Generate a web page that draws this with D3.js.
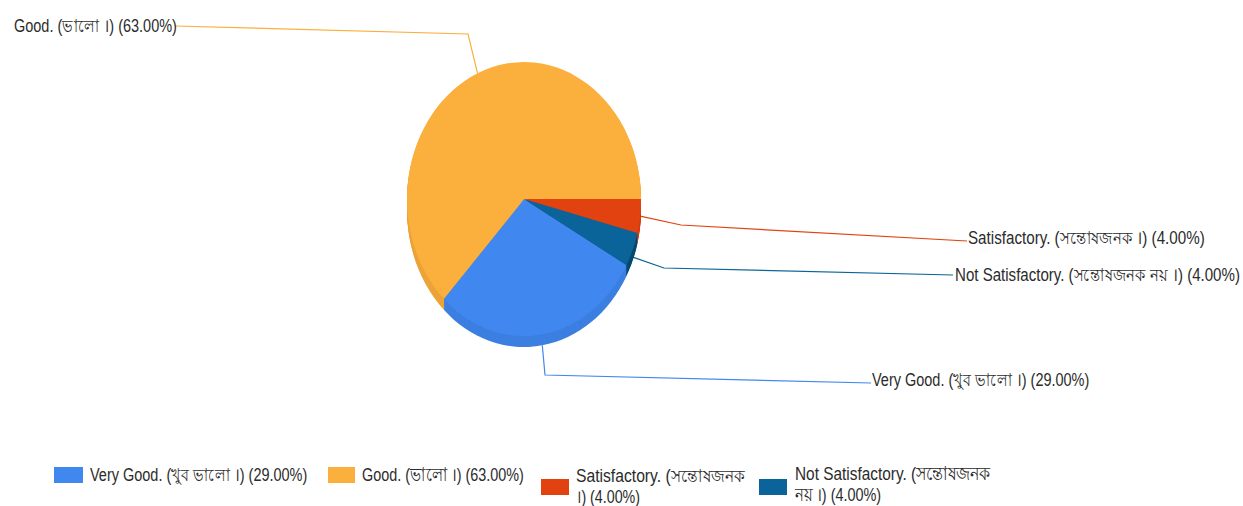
<!DOCTYPE html>
<html>
<head>
<meta charset="utf-8">
<script src="https://cdn.jsdelivr.net/npm/d3@7"></script>
<style>
	html, body { margin: 0; padding: 0; background: #fff; }
	svg { display: block; }
	text { font-family: "Liberation Sans", Arial, "Noto Sans", sans-serif; font-size: 18.5px; fill: #2b2b2b; }
</style>
</head>
<body>
<svg id="chart" width="1243" height="506"></svg>
<script>
'use strict';

const categories = ['Very Good. (খুব ভালো ।)', 'Good. (ভালো ।)', 'Satisfactory. (সন্তোষজনক ।)', 'Not Satisfactory. (সন্তোষজনক নয় ।)'];
const values = [29, 63, 4, 4];
const colors = ['#4087f0', '#fbaf3c', '#e2420f', '#0a6499'];
const legendLines = [
	['Very Good. (খুব ভালো ।) (29.00%)'],
	['Good. (ভালো ।) (63.00%)'],
	['Satisfactory. (সন্তোষজনক', '।) (4.00%)'],
	['Not Satisfactory. (সন্তোষজনক', 'নয় ।) (4.00%)']
];

const center = {x: 524, y: 199};
const radius = {x: 117, y: 137};
const depth = 11;

// leader elbow and label placement, same order as categories
const leaders = [
	{elbow: [545, 375], end: [871, 383], textX: 872, textY: 386, textW: 218},
	{elbow: [468, 34], end: [175, 26], textX: 14, textY: 32, textW: 163},
	{elbow: [681, 225], end: [967, 241], textX: 968, textY: 244, textW: 239},
	{elbow: [664, 268], end: [953, 275], textX: 955, textY: 281, textW: 287}
];
const legendPos = [
	{x: 54, y: 467, w: 29, textX: 90, textY: 481, widths: [218]},
	{x: 328, y: 467, w: 27, textX: 362, textY: 481, widths: [162]},
	{x: 541, y: 479, w: 28, textX: 576, textY: 482, widths: [172, 64]},
	{x: 759, y: 479, w: 28, textX: 795, textY: 480, widths: [197, 86]}
];

const svg = d3.select('#chart');

// pie is drawn on a unit circle and squashed into the ellipse
const pie = d3.pie().sort(null).startAngle(118.8 * Math.PI / 180).endAngle((118.8 + 360) * Math.PI / 180);
const arcs = pie(values);
const arc = d3.arc().innerRadius(0).outerRadius(1);

const edgePoint = d => {
	let a = (d.startAngle + d.endAngle) / 2;
	let c = Math.cos(a);
	// lower slices start from the bottom of the wall
	let dy = depth * Math.min(1, Math.max(0, (-c - 0.125) / 0.35));
	return [center.x + Math.sin(a) * radius.x, center.y - c * radius.y + dy];
};

// the reference text is narrow and tall, squeeze it to the width it has there
const squeezed = (sel, x, y, w) => {
	let sx = w / sel.node().getComputedTextLength();
	sel.attr('transform', `translate(${x},${y}) scale(${sx},1)`);
};

svg.append('g').selectAll('path')
	.data(arcs)
	.join('path')
	.attr('fill', 'none')
	.attr('stroke-width', 1.2)
	.attr('stroke', (d, i) => colors[i])
	.attr('d', (d, i) => d3.line()([edgePoint(d), leaders[i].elbow, leaders[i].end]));

const wall = svg.append('g');
d3.range(depth, 0, -1).forEach(off => {
	wall.append('g')
		.attr('transform', `translate(${center.x},${center.y + off}) scale(${radius.x},${radius.y})`)
		.selectAll('path')
		.data(arcs)
		.join('path')
		.attr('fill', (d, i) => d3.color(colors[i]).darker(i === 3 ? 0.9 : 0.18))
		.attr('d', arc);
});

svg.append('g')
	.attr('transform', `translate(${center.x},${center.y}) scale(${radius.x},${radius.y})`)
	.selectAll('path')
	.data(arcs)
	.join('path')
	.attr('fill', (d, i) => colors[i])
	.attr('d', arc);

svg.append('g').selectAll('text')
	.data(arcs)
	.join('text')
	.text((d, i) => categories[i] + ' (' + d.value.toFixed(2) + '%)')
	.each(function(d, i) {
		squeezed(d3.select(this), leaders[i].textX, leaders[i].textY, leaders[i].textW);
	});

const legend = svg.append('g').selectAll('g')
	.data(categories)
	.join('g');

legend.append('rect')
	.attr('x', (d, i) => legendPos[i].x)
	.attr('y', (d, i) => legendPos[i].y)
	.attr('width', (d, i) => legendPos[i].w)
	.attr('height', 16)
	.attr('fill', (d, i) => colors[i]);

legend.each(function(d, i) {
	legendLines[i].forEach((line, j) => {
		let t = d3.select(this).append('text').text(line);
		squeezed(t, legendPos[i].textX, legendPos[i].textY + j * 21, legendPos[i].widths[j]);
	});
});
</script>
</body>
</html>
